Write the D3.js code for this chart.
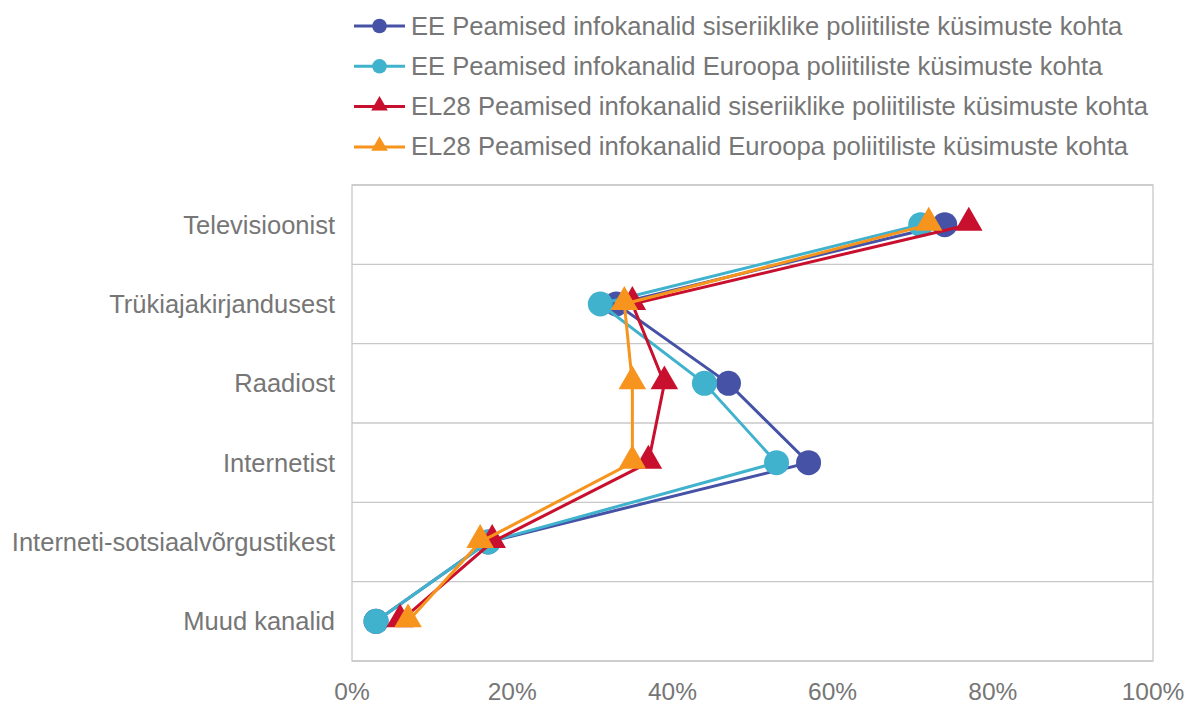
<!DOCTYPE html>
<html>
<head>
<meta charset="utf-8">
<script src="https://cdn.jsdelivr.net/npm/d3@7"></script>
<style>
  body { margin: 0; background: #fff; }
  svg { font-family: "Liberation Sans", Arial, sans-serif; }
</style>
</head>
<body>
<div id="chart"></div>
<script>
const categories = [
  "Televisioonist",
  "Trükiajakirjandusest",
  "Raadiost",
  "Internetist",
  "Interneti-sotsiaalvõrgustikest",
  "Muud kanalid",
];
const eeDomestic = [74, 33, 47, 57, 17, 3];
const eeEurope = [71, 31, 44, 53, 17, 3];
const euDomestic = [77, 35, 39, 37, 17.5, 6];
const euEurope = [72, 34, 35, 35, 16, 7];
const xTicks = [0, 20, 40, 60, 80, 100];

const series = [
  { name: "EE Peamised infokanalid siseriiklike poliitiliste küsimuste kohta", values: eeDomestic, color: "#4652a6", shape: "circle" },
  { name: "EE Peamised infokanalid Euroopa poliitiliste küsimuste kohta", values: eeEurope, color: "#40b2cd", shape: "circle" },
  { name: "EL28 Peamised infokanalid siseriiklike poliitiliste küsimuste kohta", values: euDomestic, color: "#c8102e", shape: "triangle" },
  { name: "EL28 Peamised infokanalid Euroopa poliitiliste küsimuste kohta", values: euEurope, color: "#f7941d", shape: "triangle" },
];

const width = 1189, height = 704;
const margin = { left: 352, right: 36, top: 185, bottom: 43 };
const textColor = "#767676";

const svg = d3.select("#chart").append("svg")
  .attr("width", width).attr("height", height);

const x = d3.scaleLinear().domain([0, 100]).range([margin.left, width - margin.right]);
const y = d3.scaleBand().domain(categories).range([margin.top, height - margin.bottom]).padding(0);

// horizontal gridlines between categories
const bounds = categories.map((c) => y(c)).concat([height - margin.bottom]);
svg.append("g").selectAll("line").data(bounds).join("line")
  .attr("x1", margin.left).attr("x2", width - margin.right)
  .attr("y1", (d) => d).attr("y2", (d) => d)
  .attr("stroke", "#c8c8c8").attr("stroke-width", 1.3);

// frame
svg.append("rect")
  .attr("x", margin.left).attr("y", margin.top)
  .attr("width", x(100) - x(0)).attr("height", height - margin.bottom - margin.top)
  .attr("fill", "none").attr("stroke", "#c8c8c8").attr("stroke-width", 1.3);

// x tick labels
svg.append("g").selectAll("text").data(xTicks).join("text")
  .attr("x", (d) => x(d)).attr("y", 700)
  .attr("text-anchor", "middle")
  .attr("font-size", 24.5).attr("fill", textColor)
  .text((d) => d + "%");

// category labels
svg.append("g").selectAll("text").data(categories).join("text")
  .attr("x", margin.left - 17).attr("y", (d) => y(d) + y.bandwidth() / 2 + 9)
  .attr("text-anchor", "end")
  .attr("font-size", 25.5).attr("fill", textColor)
  .text((d) => d);

const line = d3.line()
  .x((d) => x(d.v))
  .y((d) => y(d.c) + y.bandwidth() / 2);

const tri = d3.symbol().type(d3.symbolTriangle).size(330);

function drawMarker(g, shape, color) {
  if (shape === "circle") {
    g.append("circle").attr("r", 12.5).attr("fill", color);
  } else {
    g.append("path").attr("d", tri).attr("transform", "translate(0,-2)").attr("fill", color);
  }
}

series.forEach((s) => {
  const pts = s.values.map((v, i) => ({ v: v, c: categories[i] }));
  const g = svg.append("g");
  g.append("path").datum(pts)
    .attr("d", line)
    .attr("fill", "none")
    .attr("stroke", s.color)
    .attr("stroke-width", 3);
  pts.forEach((p) => {
    const m = g.append("g")
      .attr("transform", `translate(${x(p.v)},${y(p.c) + y.bandwidth() / 2})`);
    drawMarker(m, s.shape, s.color);
  });
});

// legend
const legend = svg.append("g");
series.forEach((s, i) => {
  const ly = 26 + i * 40.3;
  const item = legend.append("g").attr("transform", `translate(354,${ly})`);
  item.append("line").attr("x1", 0).attr("x2", 51).attr("y1", 0).attr("y2", 0)
    .attr("stroke", s.color).attr("stroke-width", 3);
  const m = item.append("g").attr("transform", "translate(25.5,0)");
  if (s.shape === "circle") {
    m.append("circle").attr("r", 7.3).attr("fill", s.color);
  } else {
    m.append("path").attr("d", d3.symbol().type(d3.symbolTriangle).size(120))
      .attr("transform", "translate(0,-1)").attr("fill", s.color);
  }
  item.append("text").attr("x", 57).attr("y", 8.5)
    .attr("font-size", 25.6).attr("fill", textColor)
    .text(s.name);
});
</script>
</body>
</html>
